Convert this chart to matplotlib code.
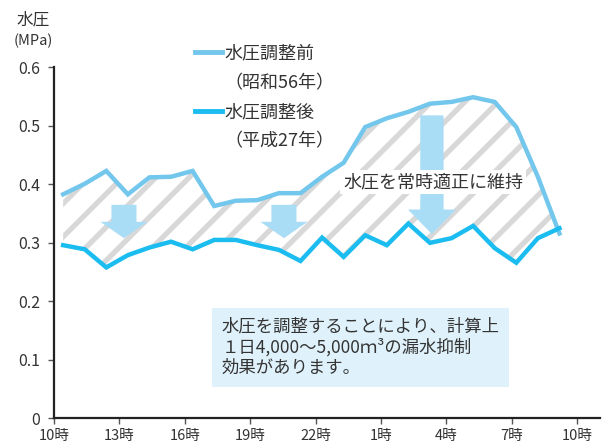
import numpy as np
import matplotlib
matplotlib.use("Agg")
import matplotlib.pyplot as plt
from matplotlib.lines import Line2D

plt.rcParams['font.family'] = ['Noto Sans CJK JP', 'DejaVu Sans']
plt.rcParams['hatch.linewidth'] = 3.8

# hourly readings, 10時 .. 9時 (next day)
before = [0.383, 0.401, 0.423, 0.383, 0.412, 0.413, 0.423, 0.363, 0.372, 0.373, 0.385, 0.385,
          0.413, 0.437, 0.498, 0.513, 0.524, 0.538, 0.541, 0.549, 0.541, 0.498, 0.413, 0.316]
after = [0.296, 0.289, 0.258, 0.279, 0.292, 0.302, 0.289, 0.305, 0.305, 0.296, 0.288, 0.269,
         0.309, 0.276, 0.313, 0.296, 0.333, 0.300, 0.308, 0.329, 0.291, 0.266, 0.308, 0.325]
hours = np.arange(len(before)) * 0.99 + 0.42

tick_pos = [0, 3, 6, 9, 12, 15, 18, 21, 24]
tick_labels = ["10時", "13時", "16時", "19時", "22時", "1時", "4時", "7時", "10時"]
y_ticks = [0, 0.1, 0.2, 0.3, 0.4, 0.5, 0.6]
y_labels = ["0", "0.1", "0.2", "0.3", "0.4", "0.5", "0.6"]

c_before = "#74c7ec"
c_after = "#1bbdf0"
c_arrow = "#a9ddf6"
txt = "#333333"

fig = plt.figure(figsize=(6.08, 4.47), dpi=100)
ax = fig.add_axes([0.0888, 0.0642, 0.898, 0.785])

ax.fill_between(hours, after, before, facecolor="white", edgecolor="#d8d8d8",
                hatch="/", linewidth=0, zorder=1)

# downward arrows (x centre, top, tip, shaft width, head width, head length)
arrows = [(3.21, 0.365, 0.308, 1.15, 2.16, 0.028),
          (10.55, 0.365, 0.308, 1.15, 2.16, 0.028),
          (17.34, 0.518, 0.315, 1.07, 2.2, 0.042)]
for xc, top, tip, w, hw, hl in arrows:
    ax.arrow(xc, top, 0, tip - top, width=w, head_width=hw, head_length=hl,
             length_includes_head=True, color=c_arrow, lw=0, zorder=2)

ax.plot(hours, before, color=c_before, lw=3.2, zorder=4, solid_joinstyle="miter")
ax.plot(hours, after, color=c_after, lw=3.2, zorder=4, solid_joinstyle="miter")

ax.text(17.39, 0.404, "水圧を常時適正に維持", fontsize=13, color=txt, ha="center", va="center",
        zorder=5, bbox=dict(boxstyle="square,pad=0.15", fc="white", ec="none"))

ax.text(7.7, 0.173, "水圧を調整することにより、計算上\n１日4,000～5,000ｍ³の漏水抑制\n効果があります。",
        fontsize=12.5, color=txt, ha="left", va="top", linespacing=1.2, zorder=5,
        bbox=dict(boxstyle="square,pad=0.55", fc="#dff1fa", ec="none"))

handles = [Line2D([], [], color=c_before, lw=3.5), Line2D([], [], lw=0),
           Line2D([], [], color=c_after, lw=3.5), Line2D([], [], lw=0)]
labels = ["水圧調整前", "（昭和56年）", "水圧調整後", "（平成27年）"]
leg = ax.legend(handles, labels, loc="upper left", bbox_to_anchor=(0.245, 1.085),
                frameon=False, fontsize=13, handlelength=1.5, handletextpad=0.12,
                labelspacing=0.62, borderaxespad=0)
for t in leg.get_texts():
    t.set_color(txt)

ax.set_xlim(0, 25.05)
ax.set_ylim(0, 0.6)
ax.set_xticks(tick_pos)
ax.set_xticklabels(tick_labels, fontsize=10.5, color=txt)
ax.set_yticks(y_ticks)
ax.set_yticklabels(y_labels, fontsize=11.5, color=txt)
ax.tick_params(axis="both", direction="out", length=4, width=1, color="#555555")
ax.tick_params(axis="x", pad=4)
ax.tick_params(axis="y", pad=6)
for s in ["top", "right"]:
    ax.spines[s].set_visible(False)
for s in ["left", "bottom"]:
    ax.spines[s].set_linewidth(1.6)
    ax.spines[s].set_color("#222222")

fig.text(0.055, 0.955, "水圧", fontsize=12, color=txt, ha="center", va="center")
fig.text(0.055, 0.908, "(MPa)", fontsize=10.5, color=txt, ha="center", va="center")

fig.savefig("out.png", dpi=100)
